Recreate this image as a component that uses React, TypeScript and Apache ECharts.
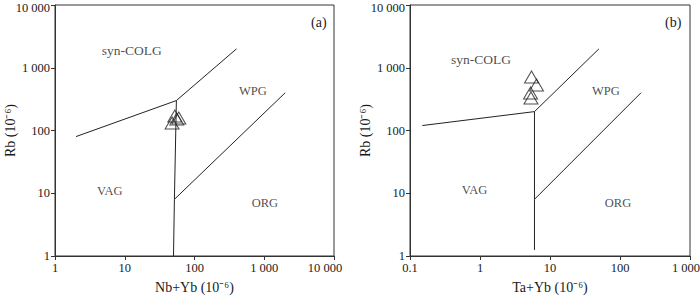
import React, { useEffect, useRef } from "react";
import * as echarts from "echarts";

// ---- data ----
// Panel (a): Rb vs Nb+Yb
const aSamplesX = [47.7, 52.2, 55.7, 59.5];
const aSamplesY = [132, 170, 152, 158];
const aLineCOLG = [[2, 80], [55, 300], [400, 2000]];
const aLineVAG = [[55, 300], [51.5, 8], [50, 1]];
const aLineORG = [[51.5, 8], [2000, 400]];
const aFields = ["syn-COLG", "WPG", "VAG", "ORG"];
const aFieldX = [12.6, 686, 6.1, 1020];
const aFieldY = [1918, 431, 11, 7.07];

// Panel (b): Rb vs Ta+Yb
const bSamplesX = [5.44, 6.41, 5.27, 5.35];
const bSamplesY = [712, 531, 396, 330];
const bLineCOLG = [[0.15, 120], [6, 200], [50, 2000]];
const bLineVAG = [[6, 200], [6, 8], [6, 1.25]];
const bLineORG = [[6, 8], [200, 400]];
const bFields = ["syn-COLG", "WPG", "VAG", "ORG"];
const bFieldX = [1.03, 63, 0.835, 93.6];
const bFieldY = [1378, 431, 11.3, 7.07];

const yRange = [1, 10000];
const aXRange = [1, 10000];
const bXRange = [0.1, 1000];

const FONT = "'Liberation Serif', 'Times New Roman', serif";
const INK = "#1a1a1a";

function fmt(v: number): string {
  const r = Number(Number(v).toPrecision(6));
  if (r >= 1000) return String(r).replace(/\B(?=(\d{3})+(?!\d))/g, " ");
  return String(r);
}

function isMax(v: number, max: number) {
  return Math.abs(Number(Number(v).toPrecision(6)) - max) < 1e-9;
}

function zip(xs: number[], ys: number[]) {
  return xs.map((x, i) => [x, ys[i]]);
}

function axisCommon() {
  return {
    type: "log" as const,
    logBase: 10,
    axisLine: { show: true, lineStyle: { color: "#333", width: 1 } },
    axisTick: { show: true, inside: false, length: 4, lineStyle: { color: "#333" } },
    splitLine: { show: false },
    minorTick: { show: false },
    nameLocation: "middle" as const,
    nameMoveOverlap: false,
    nameTextStyle: { color: INK, fontFamily: FONT, fontSize: 14 },
  };
}

const baseLabel = { color: INK, fontFamily: FONT, fontSize: 12.5, margin: 5 };

// x axis: last label nudged left by a trailing spacer fragment
function xLabel(max: number, spacer: number) {
  return {
    ...baseLabel,
    formatter: (v: number) => (isMax(v, max) ? `{m|${fmt(v)}}{s| }` : fmt(v)),
    rich: {
      m: { color: INK, fontFamily: FONT, fontSize: 12.5 },
      s: { width: spacer, fontSize: 12.5 },
    },
  };
}

// y axis: top label nudged down so it stays inside the page
function yLabel(max: number) {
  return {
    ...baseLabel,
    formatter: (v: number) => (isMax(v, max) ? `{m|${fmt(v)}}` : fmt(v)),
    rich: { m: { color: INK, fontFamily: FONT, fontSize: 12.5, padding: [5, 0, 0, 0] } },
  };
}

function lineSeries(data: number[][], idx: number) {
  return {
    type: "line",
    xAxisIndex: idx,
    yAxisIndex: idx,
    data,
    showSymbol: false,
    symbol: "none",
    lineStyle: { color: "#222", width: 1 },
    silent: true,
  };
}

function fieldSeries(names: string[], xs: number[], ys: number[], idx: number) {
  return {
    type: "scatter",
    xAxisIndex: idx,
    yAxisIndex: idx,
    symbolSize: 0,
    data: names.map((n, i) => ({
      value: [xs[i], ys[i]],
      label: {
        show: true,
        formatter: n,
        position: "inside",
        color: INK,
        fontFamily: FONT,
        fontSize: n === "syn-COLG" ? 13.5 : 12.5,
      },
    })),
    silent: true,
  };
}

function sampleSeries(xs: number[], ys: number[], idx: number) {
  return {
    type: "scatter",
    xAxisIndex: idx,
    yAxisIndex: idx,
    symbol: "triangle",
    symbolSize: [14, 12],
    itemStyle: { color: "rgba(0,0,0,0)", borderColor: "#222", borderWidth: 1 },
    data: zip(xs, ys),
    z: 5,
  };
}

export default function App() {
  const ref = useRef<HTMLDivElement>(null);
  useEffect(() => {
    if (!ref.current) return;
    const chart = echarts.init(ref.current, undefined, { renderer: "svg" });
    chart.setOption({
      animation: false,
      backgroundColor: "#fff",
      textStyle: { fontFamily: FONT },
      grid: [
        { left: 55, right: 366, top: 5, bottom: 40, show: true, borderColor: "#333", borderWidth: 1, containLabel: false, outerBoundsMode: "none" },
        { left: 410, right: 10, top: 5, bottom: 40, show: true, borderColor: "#333", borderWidth: 1, containLabel: false, outerBoundsMode: "none" },
      ],
      xAxis: [
        { ...axisCommon(), gridIndex: 0, min: aXRange[0], max: aXRange[1], name: "Nb+Yb (10⁻⁶)", nameGap: 24, axisLabel: xLabel(aXRange[1], 18) },
        { ...axisCommon(), gridIndex: 1, min: bXRange[0], max: bXRange[1], name: "Ta+Yb (10⁻⁶)", nameGap: 24, axisLabel: xLabel(bXRange[1], 8) },
      ],
      yAxis: [
        { ...axisCommon(), gridIndex: 0, min: yRange[0], max: yRange[1], name: "Rb (10⁻⁶)", nameGap: 38, axisLabel: yLabel(yRange[1]) },
        { ...axisCommon(), gridIndex: 1, min: yRange[0], max: yRange[1], name: "Rb (10⁻⁶)", nameGap: 38, axisLabel: yLabel(yRange[1]) },
      ],
      graphic: [
        { type: "text", left: 311, top: 15, style: { text: "(a)", fill: INK, font: `14px ${FONT}` } },
        { type: "text", left: 665, top: 15, style: { text: "(b)", fill: INK, font: `14px ${FONT}` } },
      ],
      series: [
        lineSeries(aLineCOLG, 0),
        lineSeries(aLineVAG, 0),
        lineSeries(aLineORG, 0),
        fieldSeries(aFields, aFieldX, aFieldY, 0),
        sampleSeries(aSamplesX, aSamplesY, 0),
        lineSeries(bLineCOLG, 1),
        lineSeries(bLineVAG, 1),
        lineSeries(bLineORG, 1),
        fieldSeries(bFields, bFieldX, bFieldY, 1),
        sampleSeries(bSamplesX, bSamplesY, 1),
      ],
    });
    return () => chart.dispose();
  }, []);
  return (
    <div
      ref={ref}
      style={{ position: "absolute", left: 0, top: 0, width: 700, height: 296 }}
    />
  );
}
